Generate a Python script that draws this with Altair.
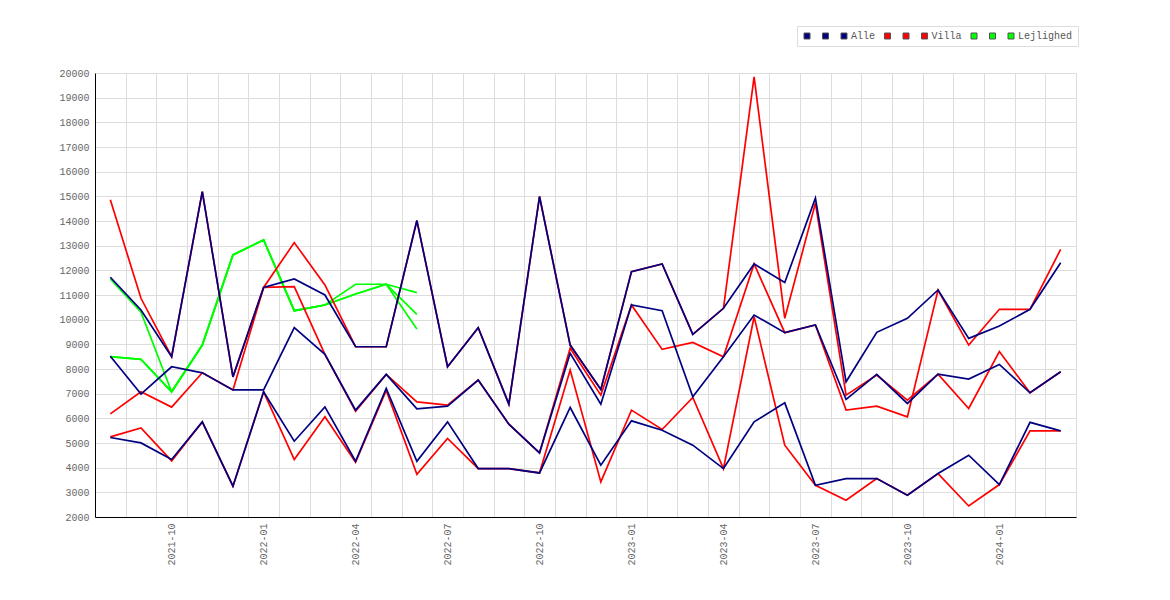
import altair as alt
import pandas as pd

months = ["2021-08", "2021-09", "2021-10", "2021-11", "2021-12",
          "2022-01", "2022-02", "2022-03", "2022-04", "2022-05", "2022-06",
          "2022-07", "2022-08", "2022-09", "2022-10", "2022-11", "2022-12",
          "2023-01", "2023-02", "2023-03", "2023-04", "2023-05", "2023-06",
          "2023-07", "2023-08", "2023-09", "2023-10", "2023-11", "2023-12",
          "2024-01", "2024-02", "2024-03"]

tick_labels = ["2021-10", "2022-01", "2022-04", "2022-07", "2022-10",
               "2023-01", "2023-04", "2023-07", "2023-10", "2024-01"]

alle_1 = [11720, 10392, 8496, 15192, 7680, 11307, 11651, 11001, 8902, 8902, 14018,
          8090, 9673, 6575, 14992, 8971, 7172, 11948, 12260, 9405, 10461, 12260,
          11503, 14927, 7481, 9487, 10055, 11204, 9243, 9743, 10420, 12311]
alle_2 = [8520, 6982, 8090, 7846, 7150, 7150, 9673, 8593, 6332, 7781, 6385,
          6494, 7550, 5764, 4600, 8634, 6575, 10595, 10364, 6872, 8496, 10189,
          9472, 9784, 6764, 7781, 6602, 7794, 7591, 8185, 7037, 7889]
alle_3 = [5224, 5004, 4330, 5857, 3250, 7075, 5073, 6466, 4261, 7213, 4261,
          5857, 3963, 3963, 3786, 6440, 4099, 5898, 5520, 4911, 3963, 5857,
          6628, 3287, 3558, 3558, 2880, 3760, 4505, 3315, 5836, 5491]

villa_1 = [14858, 10867, 8496, 15192, 7680, 11307, 13124, 11407, 8902, 8902, 14018,
           8090, 9673, 6575, 14992, 8971, 7172, 11948, 12260, 9405, 10461, 19840,
           10055, 14724, 6941, 7753, 6738, 7794, 6400, 8708, 7037, 7889]
villa_2 = [6181, 7075, 6454, 7846, 7150, 11307, 11338, 8593, 6290, 7781, 6669,
           6535, 7550, 5764, 4600, 8836, 6941, 10595, 8796, 9080, 8496, 12260,
           9472, 9784, 6332, 6494, 6060, 11204, 8971, 10420, 10420, 12852]
villa_3 = [5248, 5613, 4274, 5857, 3250, 7075, 4330, 6060, 4220, 7131, 3734,
           5183, 3963, 3963, 3786, 7956, 3421, 6332, 5548, 6848, 3963, 10120,
           4911, 3287, 2677, 3558, 2880, 3760, 2447, 3315, 5491, 5491]

lej_1 = [11650, 10300, 7075, 8971, 12625, 13234, 10364, 10595, 11435, 11435, 11094]
lej_2 = [8500, 8390, 7075, 8971, 12625, 13234, 10364, 10595, 11042, 11435, 10217]
lej_3 = [8500, 8390, 7075, 8971, 12625, 13234, 10364, 10595, 11042, 11435, 9620]

series_keys = ["a1", "a2", "Alle", "v1", "v2", "Villa", "l1", "l2", "Lejlighed"]
series_colors = ["#000080", "#000080", "#000080", "#ff0000", "#ff0000", "#ff0000",
                 "#00ff00", "#00ff00", "#00ff00"]

groups = [
    ("Alle", [("a1", alle_1), ("a2", alle_2), ("Alle", alle_3)]),
    ("Villa", [("v1", villa_1), ("v2", villa_2), ("Villa", villa_3)]),
    ("Lejlighed", [("l1", lej_1), ("l2", lej_2), ("Lejlighed", lej_3)]),
]

rows = []
for gname, lst in groups:
    for key, vals in lst:
        for m, v in zip(months, vals):
            rows.append({"month": m, "value": v, "series": key,
                         "line": "line_" + key, "group": gname})
df = pd.DataFrame(rows)

FONT = "Liberation Mono"
label_list = "[" + ",".join("'" + t + "'" for t in tick_labels) + "]"

x_enc = alt.X(
    "month:O",
    sort=months,
    scale=alt.Scale(type="band", domain=months, paddingInner=0, paddingOuter=0),
    bandPosition=0.5,
    axis=alt.Axis(
        tickBand="extent", ticks=False, grid=True, gridColor="#dddddd",
        domainColor="#000000", labelExpr="indexof(" + label_list + ", datum.value) >= 0 ? datum.value : ''",
        labelAngle=270, labelAlign="right", labelBaseline="middle",
        labelFont=FONT, labelFontSize=10, labelColor="#666666",
        labelPadding=6, labelOverlap=False, title=None,
    ),
)
y_enc = alt.Y(
    "value:Q",
    scale=alt.Scale(domain=[2000, 20000], nice=False, zero=False),
    axis=alt.Axis(
        values=list(range(2000, 20001, 1000)), format="d", ticks=False,
        grid=True, gridColor="#dddddd", domainColor="#000000",
        labelFont=FONT, labelFontSize=10, labelColor="#666666",
        labelPadding=6, title=None,
    ),
)
line_scale = alt.Scale(domain=["line_" + k for k in series_keys], range=series_colors)
legend_scale = alt.Scale(domain=series_keys, range=series_colors)

base = alt.Chart(df).encode(x=x_enc, y=y_enc)

def line_layer(g):
    return base.transform_filter(alt.datum.group == g).mark_line(
        strokeWidth=1.7, interpolate="linear"
    ).encode(color=alt.Color("line:N", scale=line_scale, legend=None))

legend_layer = base.mark_square(filled=True, opacity=0, size=4).encode(
    fill=alt.Fill(
        "series:N", scale=legend_scale,
        legend=alt.Legend(
            orient="none", legendX=702, legendY=-47, direction="horizontal",
            title=None, labelExpr="length(datum.label) < 3 ? ' ' : datum.label",
            symbolType="square", symbolSize=36, symbolStrokeColor="#555555",
            symbolStrokeWidth=1, symbolOpacity=1,
            labelFont=FONT, labelFontSize=10, labelColor="#555555",
            labelOffset=2, columnPadding=6.5, padding=5,
            strokeColor="#dddddd", fillColor="#ffffff",
        ),
    )
)

chart = alt.layer(
    line_layer("Lejlighed"), line_layer("Villa"), line_layer("Alle"), legend_layer
).properties(
    width=981, height=444,
    autosize=alt.AutoSizeParams(type="none"),
    padding={"left": 87, "top": 65, "right": 86, "bottom": 75},
    background="#ffffff",
).configure_view(strokeWidth=0)

chart.save("out.html", embed_options={"renderer": "svg", "actions": False})
